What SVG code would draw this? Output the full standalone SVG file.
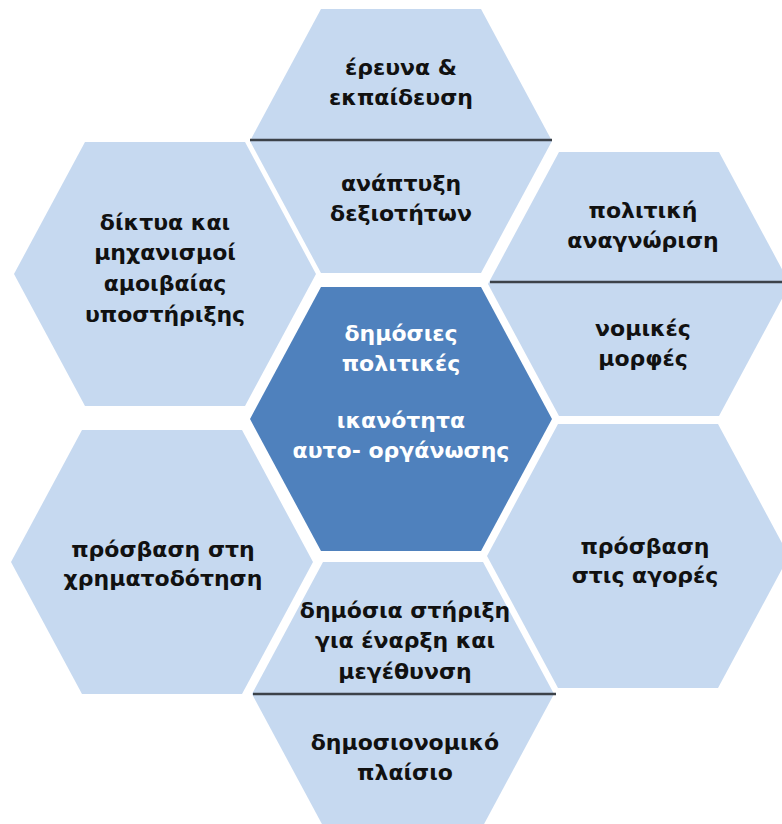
<svg xmlns="http://www.w3.org/2000/svg" width="782" height="824" viewBox="0 0 782 824">
  <defs>
    <polygon id="hex" points="-80,-132 80,-132 151,0 80,132 -80,132 -151,0"/>
  </defs>
  <style>
    .light { fill: #c6d9f0; }
    .dark { fill: #4f81bd; }
    .div { stroke: #3c4249; stroke-width: 2.5; fill: none; }
    text { font-family: "DejaVu Sans", "Liberation Sans", sans-serif; font-weight: bold; font-size: 22px; text-anchor: middle; fill: #111; }
    text.w { fill: #ffffff; }
  </style>
  <rect width="782" height="824" fill="#ffffff"/>

  <g id="node-top">
    <use href="#hex" class="light" x="401" y="141"/>
    <line class="div" x1="250" y1="140" x2="552" y2="140"/>
    <text x="401"><tspan x="401" y="75">έρευνα &amp;</tspan><tspan x="401" y="105">εκπαίδευση</tspan></text>
    <text x="401"><tspan x="401" y="191">ανάπτυξη</tspan><tspan x="401" y="221">δεξιοτήτων</tspan></text>
  </g>

  <g id="node-left-top">
    <use href="#hex" class="light" x="165" y="274"/>
    <text><tspan x="165" y="230">δίκτυα και</tspan><tspan x="165" y="260">μηχανισμοί</tspan><tspan x="165" y="291">αμοιβαίας</tspan><tspan x="165" y="322">υποστήριξης</tspan></text>
  </g>

  <g id="node-right-top">
    <use href="#hex" class="light" x="639" y="284"/>
    <line class="div" x1="490" y1="282" x2="782" y2="282"/>
    <text><tspan x="643" y="218">πολιτική</tspan><tspan x="643" y="248">αναγνώριση</tspan></text>
    <text><tspan x="643" y="336">νομικές</tspan><tspan x="643" y="366">μορφές</tspan></text>
  </g>

  <g id="node-center">
    <use href="#hex" class="dark" x="401" y="419"/>
    <text class="w"><tspan x="401" y="341">δημόσιες</tspan><tspan x="401" y="371">πολιτικές</tspan><tspan x="401" y="428">ικανότητα</tspan><tspan x="401" y="458">αυτο- οργάνωσης</tspan></text>
  </g>

  <g id="node-left-bottom">
    <use href="#hex" class="light" x="162" y="562"/>
    <text><tspan x="163" y="557">πρόσβαση στη</tspan><tspan x="163" y="586">χρηματοδότηση</tspan></text>
  </g>

  <g id="node-right-bottom">
    <use href="#hex" class="light" x="638" y="556"/>
    <text><tspan x="645" y="554">πρόσβαση</tspan><tspan x="645" y="583">στις αγορές</tspan></text>
  </g>

  <g id="node-bottom">
    <use href="#hex" class="light" x="403" y="694"/>
    <line class="div" x1="253" y1="694" x2="556" y2="694"/>
    <text><tspan x="405" y="618">δημόσια στήριξη</tspan><tspan x="405" y="648">για έναρξη και</tspan><tspan x="405" y="679">μεγέθυνση</tspan></text>
    <text><tspan x="405" y="750">δημοσιονομικό</tspan><tspan x="405" y="780">πλαίσιο</tspan></text>
  </g>
</svg>
